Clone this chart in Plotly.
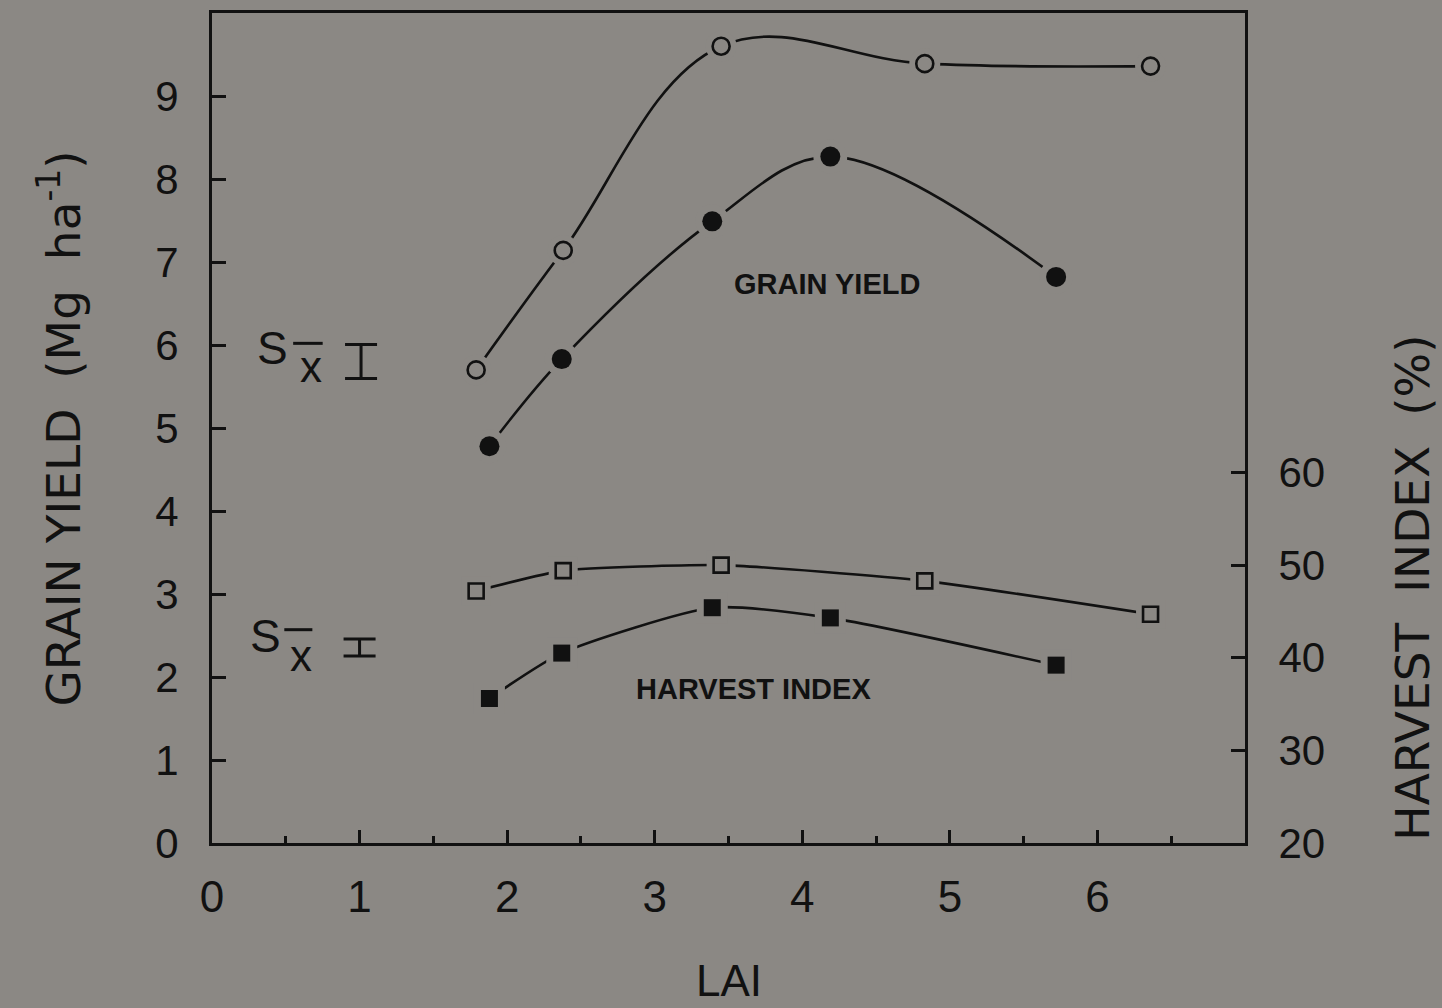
import plotly.graph_objects as go

# ---- data ----
lai_open = [1.79, 2.38, 3.45, 4.83, 6.36]
yield_open = [5.70, 7.14, 9.60, 9.39, 9.36]
lai_fill = [1.88, 2.37, 3.39, 4.19, 5.72]
yield_fill = [4.78, 5.83, 7.49, 8.27, 6.82]
hi_open = [47.2, 49.4, 50.0, 48.3, 44.7]
hi_fill = [35.6, 40.5, 45.4, 44.3, 39.2]
sx_yield = dict(x=1.01, y=5.80, err=0.205)
sx_hi = dict(x=1.00, y=41.1, err=0.91)
x_ticks = [0, 1, 2, 3, 4, 5, 6]
y_ticks = [0, 1, 2, 3, 4, 5, 6, 7, 8, 9]
y2_ticks = [20, 30, 40, 50, 60]

BG = "#8b8884"
INK = "#111111"
FONT = "Liberation Sans"
TFONT = "DejaVu Sans"
NB = "\u00a0"

fig = go.Figure()


def series(x, y, yaxis, symbol, size, filled, smooth):
    fig.add_trace(go.Scatter(x=x, y=y, yaxis=yaxis, mode="lines",
                             line=dict(color=INK, width=2.6, shape="spline", smoothing=smooth),
                             hoverinfo="skip", showlegend=False))
    fig.add_trace(go.Scatter(x=x, y=y, yaxis=yaxis, mode="markers",
                             marker=dict(symbol=symbol, size=size + 14, color=BG, line=dict(width=0)),
                             hoverinfo="skip", showlegend=False))
    fig.add_trace(go.Scatter(x=x, y=y, yaxis=yaxis, mode="markers",
                             marker=dict(symbol=symbol, size=size,
                                         color=INK if filled else BG,
                                         line=dict(color=INK, width=0 if filled else 2.6)),
                             showlegend=False))


series(lai_open, yield_open, "y", "circle", 17, False, 1.1)
series(lai_fill, yield_fill, "y", "circle", 20, True, 1.0)
series(lai_open, hi_open, "y2", "square", 15, False, 0.5)
series(lai_fill, hi_fill, "y2", "square", 17, True, 0.6)

# standard error bars
fig.add_trace(go.Scatter(x=[sx_yield["x"]], y=[sx_yield["y"]], mode="markers",
                         marker=dict(size=1, color="rgba(0,0,0,0)"),
                         error_y=dict(type="data", array=[sx_yield["err"]], color=INK,
                                      thickness=3, width=16),
                         showlegend=False, hoverinfo="skip"))
fig.add_trace(go.Scatter(x=[sx_hi["x"]], y=[sx_hi["y"]], yaxis="y2", mode="markers",
                         marker=dict(size=1, color="rgba(0,0,0,0)"),
                         error_y=dict(type="data", array=[sx_hi["err"]], color=INK,
                                      thickness=3, width=16),
                         showlegend=False, hoverinfo="skip"))

ann = []
shapes = []
# Sx labels: S, subscript x, and overbar
for sx, sy, xx, xy, bx0, bx1, by in [(0.41, 5.96, 0.67, 5.74, 0.55, 0.75, 6.02),
                                     (0.36, 2.50, 0.60, 2.26, 0.49, 0.68, 2.57)]:
    ann.append(dict(x=sx, y=sy, xref="x", yref="y", text="S", showarrow=False,
                    font=dict(family=FONT, size=46, color=INK), xanchor="center", yanchor="middle"))
    ann.append(dict(x=xx, y=xy, xref="x", yref="y", text="x", showarrow=False,
                    font=dict(family=FONT, size=44, color=INK), xanchor="center", yanchor="middle"))
    shapes.append(dict(type="line", xref="x", yref="y", x0=bx0, x1=bx1, y0=by, y1=by,
                       line=dict(color=INK, width=3)))

ann.append(dict(x=4.17, y=6.73, xref="x", yref="y", text="<b>GRAIN YIELD</b>", showarrow=False,
                font=dict(family=FONT, size=29, color=INK), xanchor="center", yanchor="middle"))
ann.append(dict(x=3.67, y=1.85, xref="x", yref="y", text="<b>HARVEST INDEX</b>", showarrow=False,
                font=dict(family=FONT, size=29, color=INK), xanchor="center", yanchor="middle"))

# axis titles
ann.append(dict(x=-0.1474, y=0.499, xref="paper", yref="paper",
                text=f"GRAIN YIELD{NB} (Mg{NB} ha<sup>-1</sup>)", textangle=-90, showarrow=False,
                font=dict(family=TFONT, size=47, color=INK), xanchor="center", yanchor="middle"))
ann.append(dict(x=1.162, y=0.308, xref="paper", yref="paper",
                text=f"HARVEST{NB} INDEX{NB} (%)", textangle=-90, showarrow=False,
                font=dict(family=TFONT, size=47, color=INK), xanchor="center", yanchor="middle"))
ann.append(dict(x=0.5, y=-0.166, xref="paper", yref="paper", text="LAI", showarrow=False,
                font=dict(family=FONT, size=44, color=INK), xanchor="center", yanchor="middle"))

fig.update_layout(
    width=1442, height=1008,
    margin=dict(l=212, r=197, t=10, b=165),
    paper_bgcolor=BG, plot_bgcolor=BG,
    annotations=ann, shapes=shapes,
    xaxis=dict(range=[0, 7], tickvals=x_ticks, ticks="inside", ticklen=13, tickwidth=2.5,
               tickcolor=INK, showline=True, linecolor=INK, linewidth=3, mirror=True,
               showgrid=False, zeroline=False, ticklabelstandoff=13,
               tickfont=dict(family=FONT, size=44, color=INK),
               minor=dict(dtick=0.5, tick0=0, ticks="inside", ticklen=7, tickwidth=2.5,
                          tickcolor=INK, showgrid=False)),
    yaxis=dict(range=[0, 10], tickvals=y_ticks, ticks="inside", ticklen=14, tickwidth=2.5,
               tickcolor=INK, showline=True, linecolor=INK, linewidth=3, mirror=True,
               showgrid=False, zeroline=False, ticklabelstandoff=22,
               tickfont=dict(family=FONT, size=42, color=INK)),
    yaxis2=dict(range=[20, 109.6], tickvals=y2_ticks, overlaying="y", side="right",
                ticks="inside", ticklen=14, tickwidth=2.5, tickcolor=INK,
                showline=True, linecolor=INK, linewidth=3, showgrid=False, zeroline=False,
                ticklabelstandoff=22, tickfont=dict(family=FONT, size=42, color=INK)),
)

fig.write_html("out.html")
